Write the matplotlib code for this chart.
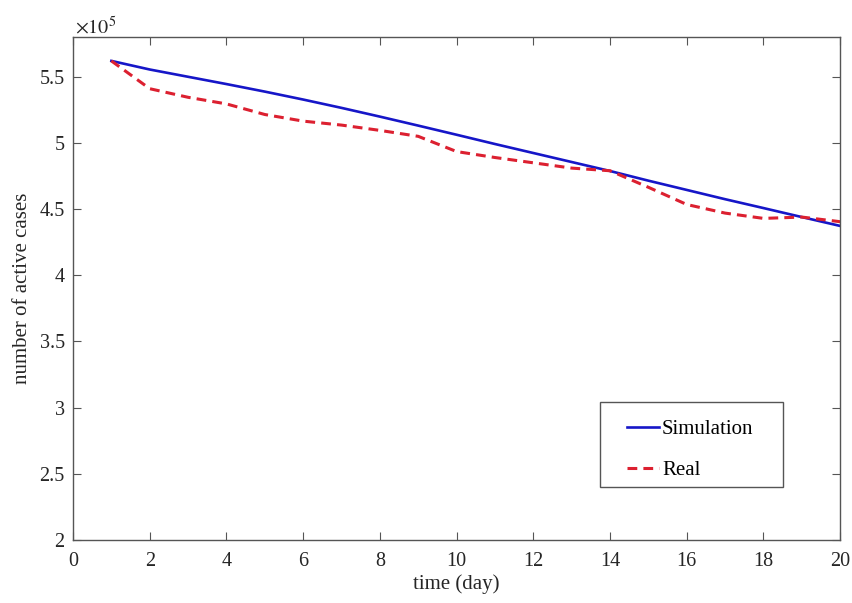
import matplotlib
matplotlib.use('Agg')
import matplotlib.pyplot as plt
import matplotlib.ticker as mticker
from matplotlib.patches import Rectangle
import numpy as np

plt.rcParams['font.family'] = ['Liberation Serif', 'DejaVu Serif']
plt.rcParams['mathtext.fontset'] = 'stix'

# days and active cases
days = np.arange(1, 21)
simulation = np.array([5.62, 5.555, 5.50, 5.445, 5.388, 5.328, 5.265, 5.199, 5.131, 5.062,
                       4.992, 4.924, 4.856, 4.788, 4.715, 4.645, 4.575, 4.508, 4.44, 4.373]) * 1e5
real = np.array([5.62, 5.41, 5.345, 5.295, 5.215, 5.165, 5.135, 5.095, 5.05, 4.935,
                 4.89, 4.85, 4.81, 4.79, 4.665, 4.535, 4.47, 4.43, 4.44, 4.405]) * 1e5

x_ticks = np.arange(0, 21, 2)
y_ticks = np.arange(2.0, 5.51, 0.5) * 1e5

fig = plt.figure(figsize=(8.53, 6.03), dpi=100)
ax = fig.add_axes([0.0856, 0.1045, 0.8994, 0.834])

ax.plot(days, simulation, color='#1616c8', lw=1.9, label='Simulation')
ax.plot(days, real, color='#dc2030', lw=2.2, ls=(0, (3.2, 2)), label='Real')

ax.set_xlim(0, 20)
ax.set_ylim(2e5, 5.8e5)
ax.set_xticks(x_ticks)
ax.set_yticks(y_ticks)
ax.yaxis.set_major_formatter(mticker.FuncFormatter(lambda v, p: '%g' % (v / 1e5)))
ax.tick_params(axis='x', pad=9)
ax.tick_params(direction='in', top=True, right=True, length=6, width=0.8,
               labelsize=14.5, color='#555555', labelcolor='#262626')
ax.tick_params(axis='y', pad=6)
for s in ax.spines.values():
    s.set_color('#555555')
    s.set_linewidth(1.0)

ax.text(0.002, 1.006, r'$\times10^5$', transform=ax.transAxes, fontsize=14.5,
        color='#262626', ha='left', va='baseline')

ax.set_xlabel('time (day)', fontsize=15, color='#262626', labelpad=2)
ax.set_ylabel('number of active cases', fontsize=15, color='#262626', labelpad=5)

# legend without its own frame, box drawn separately
leg = ax.legend(loc='upper left', bbox_to_anchor=(0.7223, 0.2390), fontsize=15,
                frameon=False, handlelength=1.55, handletextpad=0.12,
                borderpad=0, labelspacing=1.0, borderaxespad=0)
ax.add_patch(Rectangle((0.6871, 0.1054), 0.2386, 0.169, transform=ax.transAxes,
                       fill=False, edgecolor='#555555', lw=1.0, zorder=5))

fig.savefig('out.png', dpi=100)
